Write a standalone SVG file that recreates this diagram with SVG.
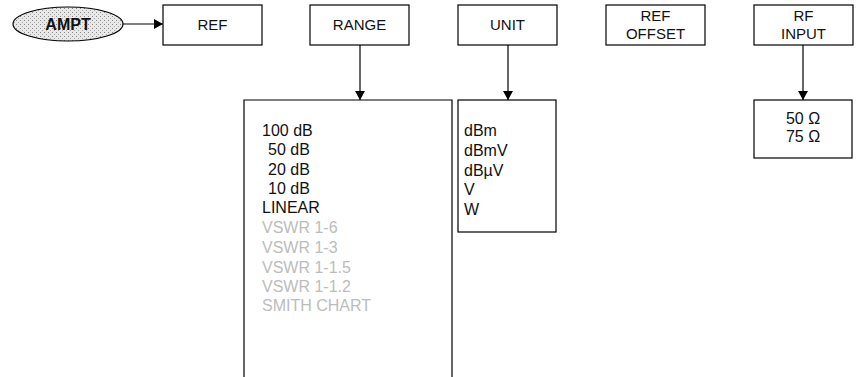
<svg xmlns="http://www.w3.org/2000/svg" width="863" height="377" viewBox="0 0 863 377">
<defs>
<marker id="ah" markerWidth="10" markerHeight="12" refX="9" refY="6" orient="auto" markerUnits="userSpaceOnUse">
<path d="M0,1 L9,6 L0,11 Z" fill="#000"/>
</marker>
<pattern id="stip" width="4" height="4" patternUnits="userSpaceOnUse">
<rect width="4" height="4" fill="#e8e8e8"/>
<rect x="0" y="0" width="1" height="1" fill="#888"/>
<rect x="2" y="2" width="1" height="1" fill="#aaa"/>
</pattern>
</defs>
<style>
.box{fill:#fff;stroke:#000;stroke-width:1.2}
.lbl{font-family:"Liberation Sans",Arial,sans-serif;font-size:15px;fill:#111;text-anchor:middle}
.item{font-family:"Liberation Sans",Arial,sans-serif;font-size:16px;fill:#111}
.dim{fill:#bcbcbc}
.conn{stroke:#000;stroke-width:1.2;fill:none}
</style>
<rect width="863" height="377" fill="#fff"/>
<g id="connectors">
<line class="conn" x1="123" y1="24" x2="163" y2="24" marker-end="url(#ah)"/>
<line class="conn" x1="360" y1="45" x2="360" y2="100" marker-end="url(#ah)"/>
<line class="conn" x1="508" y1="45" x2="508" y2="100" marker-end="url(#ah)"/>
<line class="conn" x1="803" y1="45" x2="803" y2="100" marker-end="url(#ah)"/>
</g>
<g id="ampt">
<ellipse cx="68" cy="24" rx="55" ry="17" fill="url(#stip)" stroke="#000" stroke-width="1.2"/>
<text x="68" y="30" class="lbl" style="font-weight:bold;font-size:16px">AMPT</text>
</g>
<g id="ref">
<rect class="box" x="163" y="5" width="99" height="40"/>
<text x="212.5" y="30" class="lbl">REF</text>
</g>
<g id="range">
<rect class="box" x="310" y="5" width="99" height="40"/>
<text x="359.5" y="30" class="lbl">RANGE</text>
</g>
<g id="unit">
<rect class="box" x="458" y="5" width="99" height="40"/>
<text x="507.5" y="30" class="lbl">UNIT</text>
</g>
<g id="refoffset">
<rect class="box" x="606" y="5" width="99" height="40"/>
<text x="655.5" y="21" class="lbl">REF</text>
<text x="655.5" y="39" class="lbl">OFFSET</text>
</g>
<g id="rfinput">
<rect class="box" x="754" y="5" width="99" height="40"/>
<text x="803.5" y="21" class="lbl">RF</text>
<text x="803.5" y="39" class="lbl">INPUT</text>
</g>
<g id="rangelist">
<path class="box" d="M244,377 V100 H452 V377"/>
<text class="item" x="262" y="136">100 dB</text>
<text class="item" x="268" y="155">50 dB</text>
<text class="item" x="268" y="175">20 dB</text>
<text class="item" x="268" y="194">10 dB</text>
<text class="item" x="262" y="213">LINEAR</text>
<text class="item dim" x="262" y="233">VSWR 1-6</text>
<text class="item dim" x="262" y="253">VSWR 1-3</text>
<text class="item dim" x="262" y="273">VSWR 1-1.5</text>
<text class="item dim" x="262" y="292">VSWR 1-1.2</text>
<text class="item dim" x="262" y="311">SMITH CHART</text>
</g>
<g id="unitlist">
<rect class="box" x="458" y="100" width="98" height="132"/>
<text class="item" x="464" y="136">dBm</text>
<text class="item" x="464" y="156">dBmV</text>
<text class="item" x="464" y="176">dBµV</text>
<text class="item" x="464" y="195">V</text>
<text class="item" x="464" y="215">W</text>
</g>
<g id="rflist">
<rect class="box" x="754" y="100" width="98" height="58"/>
<text class="lbl" style="font-size:16px" x="803" y="124">50 Ω</text>
<text class="lbl" style="font-size:16px" x="803" y="142">75 Ω</text>
</g>
</svg>
